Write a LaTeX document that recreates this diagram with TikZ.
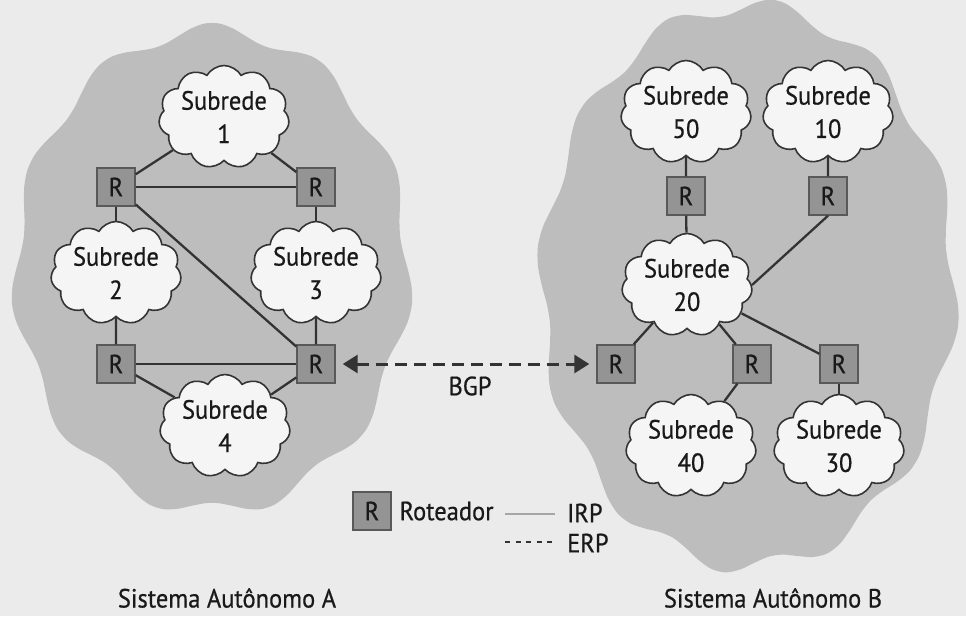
\documentclass[tikz,border=0pt]{standalone}
\usepackage{fontspec}
\setmainfont{PT Sans}[FakeStretch=0.93, FakeBold=0.6]
\usetikzlibrary{arrows.meta,shapes.symbols,positioning}

\begin{document}
\begin{tikzpicture}[>=Stealth, x=0.02cm, y=-0.02cm,
    font=\fontsize{15}{19}\selectfont, text=black!90,
    subrede/.style={cloud, cloud puffs=11, cloud puff arc=120, aspect=1.4, draw=black!80, fill=white!96!black, line width=0.9pt, align=center, inner sep=0pt, minimum width=2.6cm, minimum height=1.95cm},
    roteador/.style={draw=black!65, fill=black!42, line width=0.8pt, minimum size=0.76cm, inner sep=0pt},
    enlace/.style={line width=1.3pt, black!80}]

    \fill[black!8] (0,0) rectangle (966,616);
    \useasboundingbox (0,0) rectangle (966,616);

    % sistemas autonomos
    \fill[black!26] plot[domain=0:356, samples=90, smooth cycle]
        ({212+196*(1+0.03*sin(11*\x))*cos(\x)}, {270+240*(1+0.03*sin(11*\x))*sin(\x)});
    \fill[black!26] plot[domain=0:356, samples=90, smooth cycle]
        ({748+206*(1+0.03*sin(12*\x))*cos(\x)}, {286+280*(1+0.03*sin(12*\x))*sin(\x)});

    % sistema A
    \node[subrede] (s1) at (224,117) {Subrede\\1};
    \node[roteador] (ra1) at (116,187) {R};
    \node[roteador] (ra2) at (316,187) {R};
    \node[subrede] (s2) at (116,273) {Subrede\\2};
    \node[subrede] (s3) at (316,273) {Subrede\\3};
    \node[roteador] (ra3) at (116,364) {R};
    \node[roteador] (ra4) at (316,364) {R};
    \node[subrede] (s4) at (225,426) {Subrede\\4};

    \draw[enlace] (s1) -- (ra1);
    \draw[enlace] (s1) -- (ra2);
    \draw[enlace] (ra1) -- (ra2);
    \draw[enlace] (ra1) -- (s2);
    \draw[enlace] (ra1) -- (ra4);
    \draw[enlace] (ra2) -- (s3);
    \draw[enlace] (s2) -- (ra3);
    \draw[enlace] (s3) -- (ra4);
    \draw[enlace] (ra3) -- (ra4);
    \draw[enlace] (ra3) -- (s4);
    \draw[enlace] (ra4) -- (s4);

    % sistema B
    \node[subrede] (s50) at (686,112) {Subrede\\50};
    \node[subrede] (s10) at (828,112) {Subrede\\10};
    \node[roteador] (rb1) at (686,196) {R};
    \node[roteador] (rb2) at (828,196) {R};
    \node[subrede] (s20) at (687,285) {Subrede\\20};
    \node[roteador] (rb3) at (616,364) {R};
    \node[roteador] (rb4) at (752,364) {R};
    \node[roteador] (rb5) at (839,364) {R};
    \node[subrede] (s40) at (691,446) {Subrede\\40};
    \node[subrede] (s30) at (839,446) {Subrede\\30};

    \draw[enlace] (s50) -- (rb1);
    \draw[enlace] (rb1) -- (s20);
    \draw[enlace] (s10) -- (rb2);
    \draw[enlace] (rb2.south) -- (s20.east);
    \draw[enlace] (s20) -- (rb3);
    \draw[enlace] (s20) -- (rb4);
    \draw[enlace] (s20) -- (rb5);
    \draw[enlace] (rb4) -- (s40);
    \draw[enlace] (rb5) -- (s30);

    % BGP
    \draw[<->, >={Triangle[length=0.3cm, width=0.36cm]}, line width=1.7pt, black!80,
        dash pattern=on 6.8pt off 4pt, shorten <=4pt, shorten >=4pt] (ra4.east) -- (rb3.west);
    \node (bgp) at (470,386) {BGP};

    % legenda
    \node[roteador] (leg) at (372,511) {R};
    \node[right=1pt of leg] (legtxt) {Roteador};
    \coordinate (i1) at (505,514);
    \coordinate (i2) at (555,514);
    \draw[black!35, line width=0.6pt] (i1) -- (i2);
    \node[anchor=west] (irp) at (561,513) {IRP};
    \coordinate (e1) at (505,542);
    \coordinate (e2) at (555,542);
    \draw[dashed, line width=1.1pt, black!80] (e1) -- (e2);
    \node[anchor=west] (erp) at (561,543) {ERP};

    \node (lA) at (227,598) {Sistema Autônomo A};
    \node (lB) at (773,598) {Sistema Autônomo B};

\end{tikzpicture}
\end{document}
